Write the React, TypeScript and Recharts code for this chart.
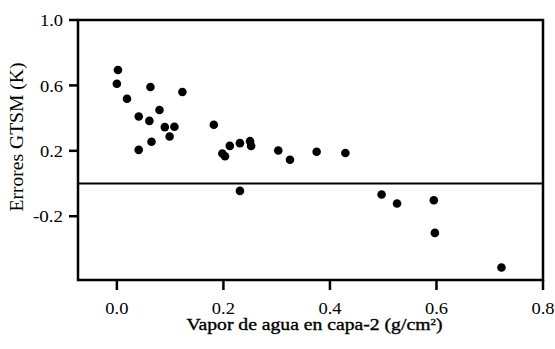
import React from "react";
import {
  ScatterChart,
  Scatter,
  XAxis,
  YAxis,
  ReferenceLine,
  ReferenceArea,
  Label,
} from "recharts";

const vaporValues = [
  0.002, 0.0, 0.063, 0.123, 0.019, 0.08, 0.041, 0.061, 0.09, 0.108, 0.099,
  0.065, 0.041, 0.182, 0.212, 0.231, 0.198, 0.203, 0.25, 0.252, 0.303, 0.325,
  0.375, 0.429, 0.231, 0.497, 0.526, 0.595, 0.597, 0.722,
];
const errorValues = [
  0.694, 0.61, 0.59, 0.56, 0.518, 0.45, 0.41, 0.383, 0.345, 0.347, 0.288,
  0.255, 0.206, 0.359, 0.23, 0.247, 0.184, 0.167, 0.259, 0.23, 0.202, 0.145,
  0.194, 0.187, -0.045, -0.067, -0.122, -0.102, -0.302, -0.514,
];
const xTicks = [0.0, 0.2, 0.4, 0.6, 0.8];
const yTicks = [-0.2, 0.2, 0.6, 1.0];
const xDomain = [-0.073, 0.8];
const yDomain = [-0.59, 1.0];
const xTitle = "Vapor de agua en capa-2 (g/cm";
const yTitle = "Errores GTSM (K)";

const data = vaporValues.map((x, i) => ({ x, y: errorValues[i] }));

const FONT = "Liberation Serif";

const Dot = (props: any) => (
  <circle cx={props.cx} cy={props.cy} r={4.3} fill="#000" />
);

const XTick = (props: any) => {
  const label = Number(props.payload.value).toFixed(1);
  return (
    <text
      x={props.x}
      y={props.y}
      dy="0.71em"
      textAnchor="middle"
      fill="#000"
      fontSize={16}
      fontFamily={FONT}
      textLength={label.length * 7.7}
      lengthAdjust="spacingAndGlyphs"
    >
      {label}
    </text>
  );
};

const YTick = (props: any) => {
  const label = Number(props.payload.value).toFixed(1);
  return (
    <text
      x={props.x}
      y={props.y}
      dy="0.36em"
      textAnchor="end"
      fill="#000"
      fontSize={17}
      fontFamily={FONT}
      textLength={label.replace("-", "").length * 7.7 + (label.startsWith("-") ? 7 : 0)}
      lengthAdjust="spacingAndGlyphs"
    >
      {label}
    </text>
  );
};

export default function App() {
  return (
    <div style={{ position: "absolute", left: 0, top: 0, background: "#fff" }}>
      <ScatterChart
        width={555}
        height={349}
        margin={{ top: 20, right: 12, left: 0, bottom: 0 }}
      >
        <XAxis
          type="number"
          dataKey="x"
          domain={xDomain}
          ticks={xTicks}
          allowDataOverflow
          height={69}
          axisLine={false}
          tickLine={{ stroke: "#000", strokeWidth: 2.5 }}
          tickSize={10}
          tickMargin={13}
          tick={XTick}
        >
          <Label
            content={(p: any) => {
              const vb = p.viewBox || { x: 78, y: 280, width: 465 };
              return (
                <text
                  x={vb.x + vb.width / 2 + 4}
                  y={vb.y + 50}
                  textAnchor="middle"
                  fill="#000"
                  stroke="#000"
                  strokeWidth={0.35}
                  fontSize={16}
                  fontFamily={FONT}
                  textLength={256}
                  lengthAdjust="spacingAndGlyphs"
                >
                  {xTitle}
                  <tspan fontSize={9} dy={-5}>2</tspan>
                  <tspan dy={5}>)</tspan>
                </text>
              );
            }}
          />
        </XAxis>
        <YAxis
          type="number"
          dataKey="y"
          domain={yDomain}
          ticks={yTicks}
          allowDataOverflow
          width={78}
          axisLine={false}
          tickLine={{ stroke: "#000", strokeWidth: 2.5 }}
          tickSize={9}
          tickMargin={6}
          tick={YTick}
        >
          <Label
            content={(p: any) => {
              const vb = p.viewBox || { x: 0, y: 20, width: 78, height: 260 };
              const cx = vb.x + 23;
              const cy = vb.y + vb.height / 2 - 13;
              return (
                <text
                  x={cx}
                  y={cy}
                  transform={`rotate(-90, ${cx}, ${cy})`}
                  textAnchor="middle"
                  fill="#000"
                  fontSize={18}
                  fontFamily={FONT}
                  textLength={149}
                  lengthAdjust="spacingAndGlyphs"
                >
                  {yTitle}
                </text>
              );
            }}
          />
        </YAxis>
        <ReferenceArea
          x1={xDomain[0]}
          x2={xDomain[1]}
          y1={yDomain[0]}
          y2={yDomain[1]}
          fill="none"
          fillOpacity={0}
          stroke="#000"
          strokeWidth={2.5}
          ifOverflow="visible"
        />
        <ReferenceLine y={0} stroke="#000" strokeWidth={2} />
        <Scatter data={data} fill="#000" shape={Dot} isAnimationActive={false} />
      </ScatterChart>
    </div>
  );
}
